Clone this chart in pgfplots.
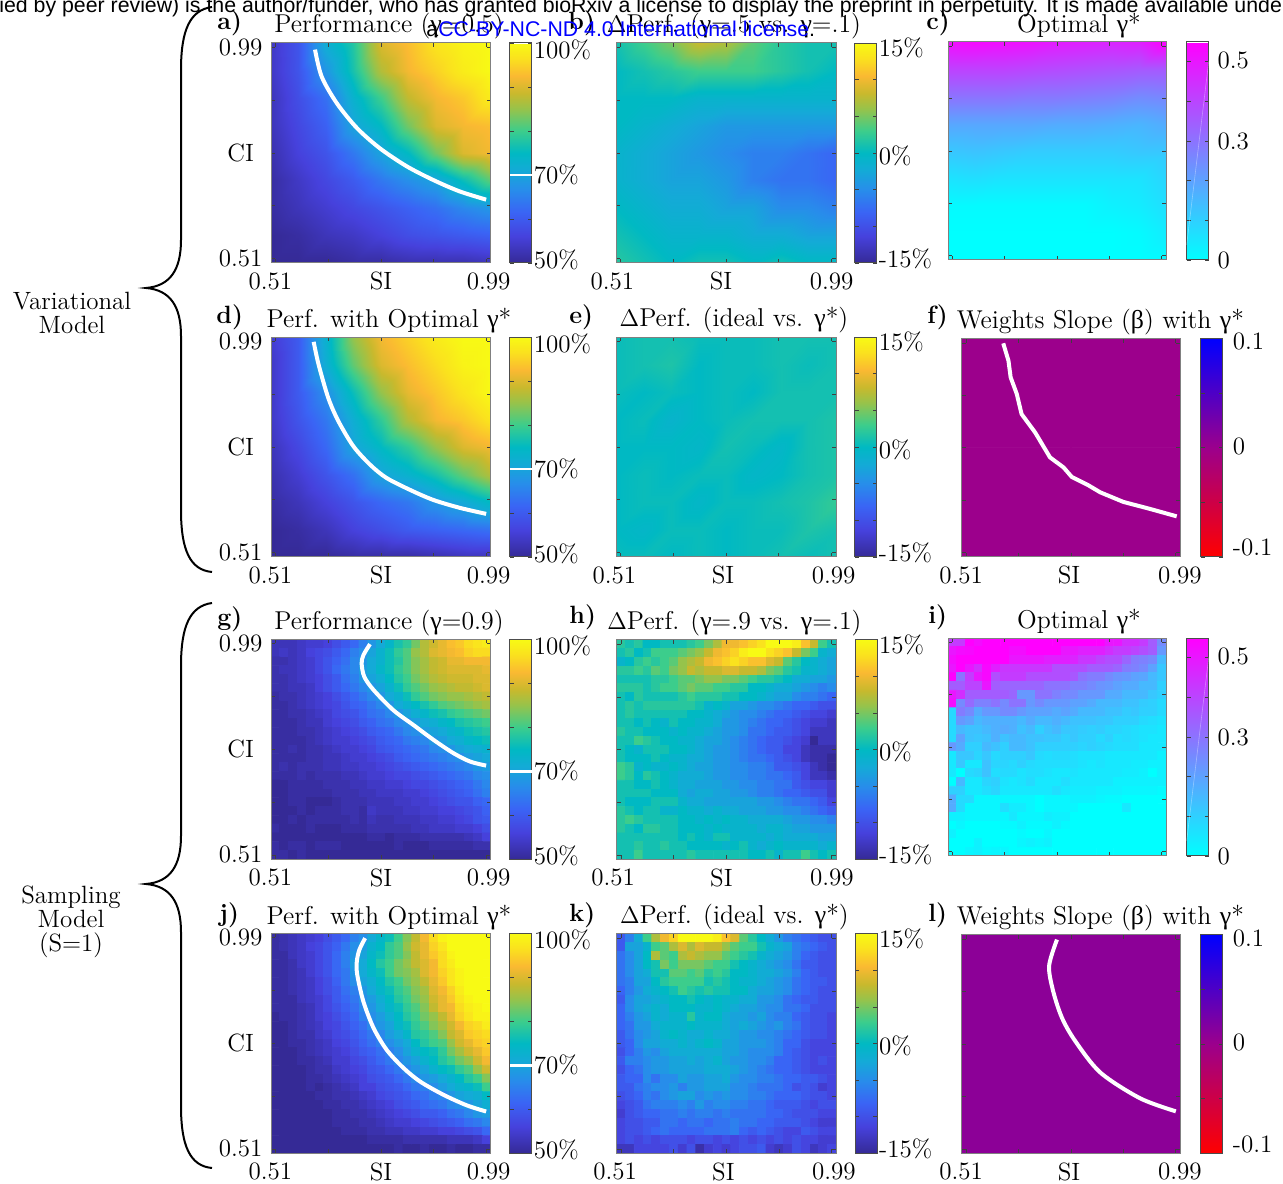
\documentclass[border=0pt]{standalone}
\usepackage{fontspec}
\usepackage{pgfplots}
\pgfplotsset{compat=1.18}
\newfontfamily\gr{Liberation Serif}
\newfontfamily\hd{Liberation Sans}
\newcommand\gm{{\gr γ}}
\newcommand\bt{{\gr β}}
\definecolor{tk}{gray}{0.25}
\pgfplotsset{
 colormap={par}{rgb255(0pt)=(53,42,150) rgb255(12pt)=(70,65,220) rgb255(23pt)=(58,100,245) rgb255(33pt)=(40,140,235) rgb255(42pt)=(20,170,215) rgb255(50pt)=(0,185,195) rgb255(60pt)=(60,205,140) rgb255(70pt)=(150,195,75) rgb255(77pt)=(200,185,45) rgb255(85pt)=(250,185,50) rgb255(93pt)=(250,225,30) rgb255(100pt)=(248,250,20)},
 colormap={coolm}{rgb255(0pt)=(0,255,255) rgb255(1pt)=(255,0,255)},
 colormap={rb}{rgb255(0pt)=(255,0,0) rgb255(1pt)=(156,0,140) rgb255(2pt)=(0,0,255)},
 base/.style n args={3}{
  at={({#1*0.5pt},{(1183-#2)*0.5pt})}, anchor=south west,
  scale only axis, width=#3*0.5pt, height=#3*0.5pt,
  xmin=0.5,xmax=1,ymin=0.5,ymax=1,
  xtick={0.51,0.63,0.75,0.87,0.99}, ytick={0.51,0.63,0.75,0.87,0.99},
  xticklabels={}, yticklabels={},
  tick align=inside, tick pos=both, major tick length=2pt,
  tick style={draw=tk,line width=0.35pt},
  axis line style={draw=black!50,line width=0.5pt},
  axis on top,
  title style={yshift=-8.5pt,xshift=4pt,font=\fontsize{12.9}{15}\selectfont},
 },
 xlab/.style={xticklabel style={inner sep=0pt,yshift=-4.5pt}},
 labA/.style={xlab,
  xticklabels={0.51\kern5pt,,SI,,\kern2pt 0.99}, yticklabels={0.51,,CI,,0.99},
  yticklabel style={text width=23pt,align=center,inner sep=0pt,xshift=-3.5pt},
 },
 labB/.style={xlab,xticklabels={0.51\kern8pt,,SI\kern5pt,,0.99}},
 labBB/.style={xlab,xticklabels={0.51\kern6pt,,SI\kern3pt,,\kern2pt 0.99}},
 labC/.style={xlab,xticklabels={0.51\kern5pt,,SI\kern2pt,,\kern4pt 0.99}},
 cb/.style={
  at={(parent axis.north east)},anchor=north west,
  width=11pt, tick align=inside, major tick length=2pt,
  tick style={draw=tk,line width=0.35pt},
  axis line style={draw=black!70,line width=0.5pt},
  yticklabel style={anchor=base west,inner sep=0pt,xshift=0.8pt,yshift=-4.2pt},
 },
 hperf/.style={point meta min=50,point meta max=100,colormap name=par,colorbar,
  colorbar style={cb,xshift=0.96pt,ytick={50,60,70,80,90,100},yticklabels={\raisebox{1.5pt}{50\%},,70\%,,,\raisebox{-3.5pt}{100\%}},
   after end axis/.code={\draw[white,line width=1.3pt] (rel axis cs:0,0.4)--(rel axis cs:1,0.4);}}},
 hdelta/.style={point meta min=-15,point meta max=15,colormap name=par,colorbar,
  colorbar style={cb,xshift=0.96pt,ytick={-15,-10,-5,0,5,10,15},yticklabels={\raisebox{2pt}{-15\%},,,\raisebox{-1.5pt}{0\%},,,\raisebox{-2.5pt}{15\%}}}},
 hcool/.style={point meta min=0,point meta max=0.55,colormap name=coolm,colorbar,
  colorbar style={cb,xshift=1.81pt,ytick={0,0.1,0.2,0.3,0.4,0.5},yticklabels={0,,,0.3,,\raisebox{1pt}{0.5}},
   yticklabel style={xshift=3.5pt},
   after end axis/.code={\draw[white,opacity=0.35,line width=0.3pt] (rel axis cs:0,0.07)--(rel axis cs:1,0.91);}}},
 hbeta/.style={point meta min=-0.1,point meta max=0.1,colormap name=rb,colorbar,
  colorbar style={cb,xshift=1.81pt,ytick={-0.1,-0.05,0,0.05,0.1},yticklabels={\raisebox{4.8pt}{-0.1},,\raisebox{1pt}{0},,\raisebox{-1.5pt}{0.1}},
   yticklabel style={xshift=4pt}}},
 white curve/.style={white,line width=2pt,no markers},
}
\newcommand\griddata[7]{%
 \gdef\acc{}%
 \foreach \v [count=\i from 0] in {#7}{%
   \pgfmathsetmacro\xx{#2+#3*mod(\i,#1)}%
   \pgfmathsetmacro\yy{#4-#5*floor((\i+0.5)/#1)}%
   \xdef\acc{\acc (\xx,\yy)[\v]}%
 }%
 \edef\tmp{\noexpand\addplot[#6] coordinates {\acc};}\tmp
}
\newcommand\smoothmap[1]{\griddata{9}{0.5}{0.0625}{1}{0.0625}{surf,shader=interp,mesh/cols=9,point meta=explicit}{#1}}
\newcommand\pixmap[1]{\griddata{25}{0.51}{0.02}{0.99}{0.02}{matrix plot*,mesh/cols=25,point meta=explicit}{#1}}
\begin{document}
\fontsize{12.5}{15}\selectfont
\begin{tikzpicture}
\useasboundingbox (0,0) rectangle (641.5pt,591.5pt);
\clip (0,0) rectangle (641.5pt,591.5pt);
% a
\begin{axis}[base={271}{263}{220},labA,hperf,title={Performance (\gm=0.5)}]
\smoothmap{54,59,72,78,90,93,97,99,100,
54,59,68,77,87,92,95,98,100,
53,58,63,73,80,88,92,94,98,
53,57,61,70,75,83,90,92,93,
52,56,59,64,70,75,83,90,92,
51,54,57,60,64,67,70,76,82,
51,53,55,57,59,61,63,66,68,
50,51,53,54,56,58,59,60,61,
50,50,50,51,51,52,52,52,53}
\addplot[white curve,smooth] coordinates {(0.600,0.985)(0.615,0.924)(0.649,0.864)(0.695,0.807)(0.747,0.761)(0.808,0.720)(0.868,0.689)(0.928,0.663)(0.989,0.644)};
\end{axis}
% b
\begin{axis}[base={616}{263}{220},labB,hdelta,title={$\Delta$Perf. (\gm=.5 vs. \gm=.1)}]
\smoothmap{1,3,5,8,7,4,2,1,1,
0,1,2,3,3,3,2,1,0,
0,0,0,-1,-1,-1,-1,-1,-1,
0,-1,-2,-3,-4,-4,-4,-4,-4,
-1,-2,-3,-4,-5,-6,-6,-7,-8,
-1,-2,-3,-3,-4,-6,-7,-7,-8,
0,-1,-2,-2,-3,-3,-5,-5,-6,
1,0,-1,-1,-1,-2,-2,-3,-3,
2,1,0,1,1,0,1,0,0}
\end{axis}
% c
\begin{axis}[base={948}{260}{218},hcool,title={Optimal \gm*},title style={xshift=7pt}]
\smoothmap{.52,.53,.52,.51,.49,.48,.47,.48,.55,
.41,.41,.41,.40,.39,.38,.37,.36,.36,
.30,.30,.30,.29,.29,.28,.27,.25,.26,
.19,.19,.19,.19,.18,.18,.17,.16,.18,
.12,.13,.12,.11,.11,.11,.11,.12,.12,
.06,.07,.06,.06,.06,.06,.06,.06,.09,
.01,.01,.01,.01,.01,.01,.03,.04,.07,
0,0,0,0,0,0,0,.01,.04,
0,0,0,0,0,0,0,0,.01}
\end{axis}
% d
\begin{axis}[base={271}{557}{220},labA,hperf,title={Perf. with Optimal \gm*}]
\smoothmap{55,60,73,85,92,95,98,100,100,
54,60,72,82,90,93,96,99,100,
54,60,67,76,85,91,94,97,100,
54,59,64,72,79,87,92,94,97,
53,57,62,70,75,79,85,90,92,
52,55,59,63,70,73,77,82,87,
51,53,56,59,62,64,68,71,75,
50,51,53,56,58,60,61,62,63,
50,50,50,51,51,51,52,53,53}
\addplot[white curve,smooth] coordinates {(0.597,0.989)(0.608,0.938)(0.630,0.862)(0.653,0.809)(0.687,0.752)(0.725,0.710)(0.762,0.680)(0.815,0.653)(0.868,0.630)(0.928,0.612)(0.989,0.598)};
\end{axis}
% e
\begin{axis}[base={616}{557}{220},labBB,hdelta,title={$\Delta$Perf. (ideal vs. \gm*)}]
\smoothmap{.5,1,1,.5,.5,.5,1,1,1,
.5,1,1.5,0,.5,.5,1,.5,1,
.5,0,.5,0,.5,0,1,1,1,
0,.5,-1,0,.5,1,1,1,1.5,
0,0,0,-.5,1,.5,-.5,1,1.5,
0,.5,0,.5,.5,-.5,0,1,1.5,
0,.5,.5,-.5,.5,.5,1,1.5,2.5,
0,-.5,.5,.5,0,.5,.5,1.5,1,
.5,.5,0,.5,0,.5,1,.5,1}
\end{axis}
% f
\begin{axis}[base={961.7}{557}{218.5},labC,hbeta,title={Weights Slope (\bt) with \gm*},title style={at={(0.63,1)},xshift=-3.5pt}]
\griddata{2}{0.51}{0.48}{0.99}{0.48}{matrix plot*,mesh/cols=2,point meta=explicit}{0,0,0,0}
\addplot[white curve] coordinates {(0.595,0.989)(0.607,0.949)(0.612,0.911)(0.626,0.873)(0.637,0.827)(0.668,0.785)(0.702,0.728)(0.733,0.705)(0.752,0.683)(0.790,0.664)(0.817,0.648)(0.870,0.626)(0.931,0.610)(0.992,0.593)};
\end{axis}
% g
\begin{axis}[base={271}{859.3}{220},labA,hperf,title={Performance (\gm=0.9)}]
\pixmap{53,53,53,54,55,55,56,58,60,62,65,68,71,74,77,79,83,87,89,91,93,94,96,97,98,
53,54,53,54,56,57,58,60,62,65,67,70,73,76,79,81,85,87,90,91,92,93,95,96,96,
52,52,53,54,55,57,59,61,63,66,68,71,73,76,78,81,84,86,88,89,91,91,92,92,92,
52,53,53,54,55,57,59,62,64,66,69,71,74,76,79,81,84,86,88,89,90,90,90,90,91,
52,52,53,54,55,56,58,60,63,65,68,70,72,75,78,80,83,85,87,88,89,89,89,90,90,
52,52,53,53,54,56,58,60,62,64,66,68,70,73,76,79,81,83,85,86,87,88,88,89,90,
51,52,52,53,54,55,56,58,60,62,64,66,68,71,73,76,79,81,83,84,85,85,86,87,88,
51,51,52,53,54,55,56,57,59,61,62,64,66,68,71,73,75,77,79,81,82,83,84,85,86,
51,51,52,52,53,54,55,57,58,59,61,63,64,66,68,70,72,74,76,77,79,80,81,82,83,
51,51,51,52,53,53,55,56,57,58,60,61,63,64,66,67,69,71,72,74,75,77,78,79,80,
51,51,51,52,52,53,54,55,56,57,58,60,61,62,64,66,67,69,70,71,73,74,76,77,78,
51,51,51,51,52,53,54,55,55,56,57,58,60,61,62,64,65,66,68,69,71,72,74,75,76,
51,51,52,51,52,52,53,54,55,55,56,57,59,60,61,62,63,64,66,67,68,70,71,72,73,
51,51,51,51,52,52,53,53,54,55,55,56,57,58,60,61,62,63,64,65,66,67,69,70,71,
51,52,51,52,52,52,53,53,54,54,55,55,56,57,58,59,60,61,62,63,64,65,66,68,69,
51,51,51,52,51,52,52,52,53,53,54,55,55,56,57,57,58,59,60,61,62,63,64,66,67,
50,50,51,51,51,51,52,52,52,53,53,54,54,55,55,56,57,57,58,59,60,61,62,64,66,
50,50,51,51,51,51,51,52,52,52,53,53,54,54,54,55,55,56,57,58,59,60,61,63,65,
50,50,51,51,50,50,50,51,52,52,52,53,53,53,54,54,55,55,56,57,58,59,59,61,62,
50,50,50,51,50,51,51,51,52,52,51,54,53,53,53,54,54,55,55,56,56,57,58,59,61,
50,50,51,50,51,51,51,51,51,52,51,53,52,52,53,53,53,54,54,55,55,56,57,59,60,
51,50,50,50,51,50,50,50,51,51,51,52,52,52,52,52,53,53,54,54,54,55,55,56,58,
50,50,50,50,50,50,50,50,50,50,50,51,51,50,51,51,51,52,52,52,52,52,53,54,56,
51,50,51,51,50,51,51,51,50,50,50,50,50,50,51,50,50,50,51,51,51,51,51,52,52,
51,51,50,51,50,50,50,50,50,50,50,50,50,50,50,50,50,50,50,50,50,50,50,50,50}
\addplot[white curve,smooth] coordinates {(0.725,0.989)(0.710,0.964)(0.706,0.945)(0.712,0.915)(0.733,0.885)(0.778,0.839)(0.824,0.805)(0.870,0.771)(0.915,0.741)(0.953,0.722)(0.989,0.713)};
\end{axis}
% h
\begin{axis}[base={616.7}{859.3}{219.5},labB,hdelta,title={$\Delta$Perf. (\gm=.9 vs. \gm=.1)}]
\pixmap{2,1,2,0,0,1,1,1,2,3,5,7,10,10,11,12,13,15,15,15,14,11,8,3,1,
1,2,0,1,3,3,3,4,5,6,8,10,11,12,14,15,15,13,12,11,8,5,3,-1,-2,
-1,0,2,3,2,3,4,6,7,8,10,11,12,13,12,11,11,9,8,4,2,0,-1,-2,-3,
2,2,3,2,4,3,5,6,8,7,8,8,9,9,8,8,7,5,4,2,1,-1,-1,-2,-3,
1,1,1,1,2,2,3,4,4,5,6,6,5,5,4,3,2,2,1,0,-2,-2,-3,-3,-4,
2,2,2,1,2,3,3,4,5,4,4,3,3,2,2,0,0,-1,-2,-2,-3,-4,-5,-6,-5,
1,0,2,1,1,1,1,2,3,2,2,2,1,1,0,0,-1,-2,-3,-3,-5,-6,-6,-7,-8,
1,2,1,2,2,2,2,2,2,1,-1,0,-1,-3,-3,-4,-5,-5,-6,-7,-8,-8,-9,-10,-10,
1,2,1,1,1,1,1,1,0,0,-1,-2,-3,-4,-5,-5,-6,-7,-8,-8,-9,-10,-11,-11,-12,
1,1,0,1,0,-1,1,0,0,-1,-1,-2,-4,-4,-5,-6,-7,-8,-8,-9,-10,-11,-12,-12,-13,
2,1,1,0,0,0,-1,0,-1,-1,-2,-3,-4,-4,-5,-7,-7,-8,-9,-9,-10,-11,-13,-13,-13,
1,1,3,2,1,0,0,-1,-1,-2,-3,-3,-4,-5,-6,-7,-8,-9,-9,-10,-11,-12,-15,-13,-13,
1,0,-1,1,1,1,0,0,-1,-2,-3,-4,-4,-5,-6,-7,-8,-9,-9,-11,-11,-13,-14,-14,-14,
1,0,0,0,1,0,-1,-1,-2,-2,-3,-4,-4,-5,-6,-7,-7,-8,-9,-10,-11,-13,-14,-14,-15,
3,2,-1,0,-1,-1,0,-1,-2,-3,-3,-4,-4,-5,-5,-6,-6,-7,-9,-9,-10,-11,-13,-14,-15,
3,2,0,2,1,0,-1,-2,-2,-2,-3,-4,-4,-5,-5,-6,-6,-7,-7,-8,-9,-11,-13,-13,-14,
1,1,0,0,1,0,-1,-2,-2,-3,-3,-3,-4,-4,-5,-5,-6,-6,-7,-7,-9,-10,-11,-11,-12,
1,1,1,1,0,0,0,-2,-3,-2,-2,-3,-3,-4,-4,-5,-6,-6,-7,-8,-8,-9,-10,-10,-12,
1,0,0,0,1,1,1,-1,-2,-2,-3,-3,-3,-3,-3,-3,-4,-4,-5,-6,-7,-7,-8,-9,-11,
2,1,0,1,1,-1,-1,0,-1,-1,-2,-1,-2,-2,-3,-3,-3,-4,-4,-5,-5,-6,-7,-8,-9,
2,3,2,1,1,1,1,0,0,-1,0,-1,0,-1,-1,-2,-2,-2,-2,-3,-4,-4,-5,-5,-6,
2,1,0,2,2,1,1,0,0,0,-1,0,-1,-1,-1,-1,-2,-1,-1,-2,-3,-3,-4,-4,-4,
1,1,1,1,1,1,1,0,1,0,-1,1,1,-1,-1,-1,-1,-2,-1,-2,-2,-2,-2,-3,-3,
1,1,2,1,1,2,1,1,0,0,0,0,-1,0,1,-1,-2,-1,0,-1,-1,-1,-1,-2,-1,
1,1,3,1,1,1,1,1,2,1,1,1,1,1,1,0,0,1,-1,1,1,3,1,0,1}
\end{axis}
% i
\begin{axis}[base={948}{856}{218},hcool,title={Optimal \gm*},title style={xshift=7pt}]
\pixmap{.42,.42,.55,.52,.55,.55,.55,.55,.55,.55,.55,.55,.55,.55,.55,.55,.55,.55,.50,.50,.45,.45,.42,.35,.25,
.50,.52,.53,.55,.55,.55,.55,.52,.52,.55,.55,.55,.55,.50,.50,.48,.48,.48,.45,.42,.42,.40,.38,.35,.22,
.52,.55,.55,.55,.55,.55,.55,.50,.50,.50,.50,.48,.48,.48,.47,.43,.43,.40,.38,.38,.33,.28,.27,.25,.15,
.50,.55,.50,.45,.53,.48,.43,.43,.43,.43,.43,.43,.38,.38,.38,.38,.35,.35,.35,.33,.28,.27,.25,.20,.12,
.55,.30,.42,.50,.53,.38,.42,.42,.42,.38,.38,.38,.38,.38,.36,.30,.28,.28,.25,.23,.22,.20,.19,.15,.12,
.35,.35,.40,.40,.50,.35,.33,.33,.33,.33,.33,.30,.30,.30,.27,.27,.25,.23,.22,.20,.18,.18,.15,.15,.10,
.50,.45,.35,.35,.35,.35,.35,.33,.22,.22,.30,.30,.27,.25,.25,.22,.22,.22,.18,.18,.15,.15,.15,.12,.10,
.52,.25,.32,.27,.27,.30,.25,.30,.30,.22,.25,.22,.22,.22,.20,.20,.18,.15,.15,.15,.13,.13,.11,.10,.08,
.08,.28,.25,.18,.22,.22,.25,.25,.22,.20,.20,.20,.18,.20,.18,.15,.15,.15,.13,.13,.11,.12,.10,.10,.08,
.08,.22,.20,.15,.17,.17,.17,.17,.15,.18,.15,.15,.17,.15,.13,.13,.13,.12,.12,.10,.10,.10,.08,.07,.06,
.08,.15,.13,.13,.15,.17,.18,.17,.13,.15,.10,.13,.15,.12,.12,.11,.10,.11,.09,.09,.08,.07,.06,.06,.05,
.08,.20,.13,.12,.13,.17,.13,.15,.15,.13,.13,.12,.12,.10,.12,.10,.10,.08,.10,.07,.08,.07,.06,.05,.05,
.22,.18,.10,.10,.15,.13,.10,.15,.15,.13,.10,.10,.10,.10,.10,.09,.10,.09,.08,.07,.07,.07,.05,.05,.05,
.05,.12,.12,.09,.12,.08,.10,.10,.10,.12,.08,.07,.08,.08,.07,.06,.06,.06,.05,.05,.05,.05,.05,.05,.03,
.05,.12,.05,.05,.13,.09,.09,.08,.10,.08,.07,.07,.07,.07,.07,.06,.05,.06,.05,.05,.05,.04,.04,.03,.03,
.05,.00,.08,.09,.13,.07,.08,.08,.06,.07,.07,.06,.05,.05,.06,.05,.05,.05,.05,.05,.04,.04,.03,.00,.03,
.00,.15,.05,.05,.09,.10,.06,.05,.06,.08,.05,.05,.05,.07,.05,.05,.05,.05,.05,.03,.03,.03,.03,.03,.03,
.10,.10,.05,.05,.07,.09,.05,.05,.05,.05,.05,.05,.07,.05,.04,.04,.04,.03,.03,.03,.02,.02,.02,.02,.01,
.18,.08,.08,.02,.02,.02,.02,.02,.02,.02,.00,.02,.02,.02,.03,.03,.03,.02,.01,.01,.00,.00,.00,.00,.00,
.18,.08,.02,.02,.02,.02,.07,.04,.04,.02,.00,.02,.02,.02,.02,.00,.00,.00,.00,.00,.05,.00,.00,.00,.00,
.03,.03,.02,.02,.02,.02,.02,.05,.02,.02,.02,.04,.03,.03,.00,.00,.00,.00,.00,.00,.00,.00,.00,.00,.00,
.00,.02,.00,.00,.00,.00,.01,.01,.03,.01,.01,.01,.03,.01,.00,.00,.00,.00,.00,.00,.00,.00,.00,.00,.00,
.03,.00,.00,.00,.00,.00,.00,.00,.01,.00,.00,.02,.00,.00,.00,.00,.00,.00,.00,.00,.00,.00,.00,.00,.00,
.00,.00,.00,.03,.00,.00,.00,.00,.02,.03,.02,.03,.00,.00,.00,.00,.00,.00,.00,.00,.00,.00,.00,.00,.00,
.00,.00,.02,.03,.01,.02,.02,.00,.00,.00,.00,.00,.00,.00,.00,.00,.00,.00,.00,.00,.00,.00,.00,.00,.00}
\end{axis}
% j
\begin{axis}[base={271}{1153.3}{220},labA,hperf,title={Perf. with Optimal \gm*}]
\pixmap{51,52,53,54,55,56,58,60,62,65,67,71,74,76,80,84,88,92,96,99,100,100,100,100,100,
51,52,53,54,56,57,59,61,64,67,69,73,75,79,81,85,89,91,95,97,100,100,100,100,100,
51,51,53,54,55,57,59,62,65,68,70,74,76,79,81,84,88,91,94,96,99,100,100,100,100,
51,51,52,54,55,57,59,62,65,69,71,75,78,80,83,85,88,90,92,96,98,100,100,100,100,
51,51,52,53,55,57,59,62,64,68,71,74,76,80,83,84,86,90,92,95,97,99,100,100,100,
51,51,52,53,54,56,58,61,64,67,70,72,75,78,80,83,85,88,91,94,97,99,100,100,100,
51,51,52,53,54,56,58,60,63,65,68,71,74,76,79,81,84,86,90,92,95,98,100,100,100,
51,51,51,53,54,55,57,60,62,64,67,69,72,75,78,80,83,85,89,91,94,97,99,100,100,
51,51,51,52,53,55,57,59,61,63,66,68,71,74,76,79,81,84,88,91,92,96,98,99,100,
50,51,51,52,53,55,56,58,60,62,65,67,69,72,75,78,80,83,85,88,91,95,97,99,99,
50,50,51,52,53,54,56,57,59,61,63,66,68,70,74,76,79,81,84,86,89,92,95,96,98,
50,50,51,52,52,54,55,57,58,60,62,64,66,69,71,74,78,79,81,84,88,90,94,95,96,
50,50,51,51,52,53,54,56,57,59,61,63,65,67,69,71,75,78,80,81,85,89,91,94,95,
50,50,50,51,52,53,54,55,56,58,60,61,63,65,67,70,73,75,76,79,83,86,89,91,94,
50,50,50,51,51,52,53,55,55,57,58,60,62,64,66,68,70,73,75,78,80,83,85,89,92,
50,50,50,50,51,52,52,54,55,56,57,59,60,62,64,66,68,70,73,75,76,79,81,85,89,
50,50,50,50,51,51,52,53,54,55,56,58,59,60,62,64,66,68,69,71,73,75,78,80,84,
50,50,50,50,51,50,51,52,53,54,56,56,58,59,60,62,64,65,67,69,71,73,74,76,80,
50,50,50,50,50,51,51,52,52,53,54,55,57,58,59,60,62,63,65,66,68,70,71,72,75,
50,50,50,50,50,50,51,51,52,52,53,54,55,56,58,59,60,62,63,64,66,67,68,70,72,
50,50,50,50,50,50,50,51,51,52,52,53,54,55,56,57,58,60,60,61,63,64,66,68,69,
50,50,50,50,50,50,50,51,51,51,52,52,53,54,55,55,56,57,58,59,60,61,63,64,66,
50,50,50,50,50,50,50,50,51,51,51,52,52,53,53,54,54,55,55,56,56,57,58,59,62,
50,50,50,50,50,50,50,50,50,50,50,51,51,51,51,52,52,52,52,52,53,53,53,54,56,
50,50,50,50,50,50,50,50,50,50,50,50,50,50,51,50,50,51,50,50,51,50,50,51,51}
\addplot[white curve,smooth] coordinates {(0.714,0.989)(0.701,0.963)(0.695,0.936)(0.696,0.906)(0.710,0.845)(0.733,0.785)(0.763,0.735)(0.801,0.694)(0.839,0.663)(0.892,0.633)(0.945,0.609)(0.989,0.595)};
\end{axis}
% k
\begin{axis}[base={616.7}{1153.3}{219.5},labBB,hdelta,title={$\Delta$Perf. (ideal vs. \gm*)}]
\pixmap{-9,-6,-2,3,7,10,12,15,15,15,15,14,11,9,4,2,0,-2,-4,-6,-7,-8,-9,-10,-10,
-9,-3,-3,-1,3,4,7,9,7,9,8,8,6,4,3,3,1,-1,-2,-3,-6,-7,-8,-9,-10,
-7,-5,-3,0,7,4,3,7,8,7,6,6,4,3,2,1,-1,-2,-3,-4,-6,-8,-9,-10,-10,
-7,-5,-3,0,1,5,3,5,5,5,4,3,3,1,0,-1,-2,-3,-4,-5,-7,-9,-9,-10,-10,
-7,-5,-3,-2,1,1,4,4,3,4,2,3,2,0,0,-1,-2,-2,-3,-4,-6,-8,-9,-10,-10,
-7,-6,-3,-3,0,2,3,3,3,3,1,2,1,0,-1,-1,-2,-3,-4,-5,-7,-8,-9,-9,-10,
-8,-6,-4,-2,-1,0,1,3,2,1,2,1,1,0,0,-2,-3,-3,-4,-5,-7,-8,-9,-10,-10,
-9,-5,-3,-3,-2,-1,0,0,1,0,-1,0,-1,-1,-2,-2,-4,-4,-5,-7,-8,-9,-9,-10,-10,
-8,-5,-3,-2,-1,-2,0,0,0,-1,-1,0,-1,-2,-3,-3,-4,-5,-5,-7,-7,-8,-10,-10,-10,
-8,-6,-4,-3,-1,-2,-1,-1,2,-1,0,0,-2,-3,-3,-4,-3,-5,-6,-6,-8,-9,-10,-10,-11,
-8,-7,-4,-4,-2,-1,-1,-1,0,-1,-1,-1,-2,-3,-2,-3,-4,-5,-4,-6,-7,-9,-10,-10,-11,
-9,-7,-5,-4,-3,-1,0,-1,-2,-2,-1,-2,-2,-3,-4,-4,-5,-5,-6,-7,-8,-9,-10,-10,-11,
-9,-8,-5,-3,-3,-2,-2,-1,-2,-1,0,-1,-3,-3,-4,-4,-4,-5,-6,-8,-8,-10,-11,-11,-11,
-10,-8,-6,-4,-5,-3,-2,-2,-2,-2,-2,-2,-3,-3,-4,-5,-5,-5,-6,-8,-9,-10,-11,-11,-11,
-9,-6,-6,-5,-4,-4,-3,-3,-2,-3,-2,-1,-3,-4,-4,-5,-5,-6,-8,-8,-9,-10,-11,-10,-11,
-10,-8,-7,-5,-4,-4,-3,-3,-3,-3,-2,-2,-2,-3,-4,-5,-6,-7,-8,-8,-9,-10,-11,-11,-11,
-9,-8,-8,-5,-7,-5,-5,-3,-4,-4,-3,-3,-2,-4,-5,-5,-6,-6,-7,-8,-8,-9,-9,-10,-11,
-9,-9,-7,-6,-5,-5,-4,-6,-4,-4,-3,-3,-3,-5,-5,-6,-7,-7,-7,-8,-10,-9,-10,-12,-11,
-10,-9,-8,-6,-7,-5,-4,-3,-3,-5,-4,-5,-4,-5,-5,-6,-6,-7,-8,-8,-8,-9,-10,-10,-11,
-11,-10,-9,-7,-6,-6,-6,-5,-6,-4,-6,-5,-5,-6,-6,-7,-7,-8,-9,-9,-9,-10,-11,-10,-10,
-12,-10,-9,-8,-8,-7,-7,-6,-7,-6,-6,-7,-6,-7,-7,-7,-7,-8,-8,-9,-10,-10,-10,-11,-11,
-11,-10,-10,-9,-9,-7,-7,-8,-7,-7,-8,-7,-7,-6,-7,-7,-8,-8,-9,-9,-9,-10,-11,-12,-12,
-11,-10,-10,-9,-8,-7,-8,-8,-8,-8,-7,-7,-7,-6,-8,-9,-8,-9,-10,-11,-11,-9,-10,-11,-11,
-11,-10,-11,-10,-11,-10,-10,-10,-11,-10,-10,-11,-10,-11,-10,-11,-10,-11,-10,-11,-10,-11,-11,-12,-12,
-13,-13,-11,-11,-11,-11,-10,-12,-10,-14,-12,-11,-12,-11,-10,-10,-9,-12,-13,-12,-10,-11,-13,-12,-11}
\end{axis}
% l
\begin{axis}[base={961.7}{1153.3}{218.5},labC,hbeta,title={Weights Slope (\bt) with \gm*},title style={at={(0.63,1)},xshift=-3.5pt}]
\griddata{2}{0.51}{0.48}{0.99}{0.48}{matrix plot*,mesh/cols=2,point meta=explicit}{0.01,0.01,0.01,0.01}
\addplot[white curve,smooth] coordinates {(0.718,0.989)(0.700,0.929)(0.709,0.872)(0.729,0.811)(0.759,0.758)(0.817,0.685)(0.908,0.626)(0.990,0.596)};
\end{axis}
% annotations in pixel coordinates
\begin{scope}[shift={(0pt,591.5pt)},x=0.5pt,y=-0.5pt]
 \foreach \lx/\ly/\lt in {217/23/a,568/23/b,926/23/c,216/317/d,569/317/e,927/317/f,217/619/g,569/617/h,928/617/i,219/915/j,569/915/k,928/915/l}
  \node[anchor=west,inner sep=0pt] at (\lx,\ly) {\textbf{\lt)}};
 \foreach \d in {0,596}{
 \draw[line width=1pt,black,yshift=-\d*0.5pt] (212,7) .. controls (190,10) and (181,30) .. (181,70) -- (181,240) .. controls (181,270) and (170,286) .. (146,288) .. controls (170,290) and (181,306) .. (181,336) -- (181,510) .. controls (181,550) and (190,570) .. (212,572);
 }
 \node[align=center,inner sep=0pt,font=\fontsize{12.5}{12}\selectfont] at (72,313) {Variational\\Model};
 \node[align=center,inner sep=0pt,font=\fontsize{12.5}{12}\selectfont] at (71,922) {Sampling\\Model\\(S=1)};
 \node[anchor=west,inner sep=0pt,font=\hd\fontsize{10.65}{12}\selectfont] at (-1,7) {ied by peer review) is the author/funder, who has granted bioRxiv a license to display the preprint in perpetuity. It is made available under};
 \node[anchor=west,inner sep=0pt,font=\hd\fontsize{10.65}{12}\selectfont] at (426,29) {a\textcolor[rgb]{0,0,1}{CC-BY-NC-ND 4.0 International license}.};
\end{scope}
\end{tikzpicture}
\end{document}
